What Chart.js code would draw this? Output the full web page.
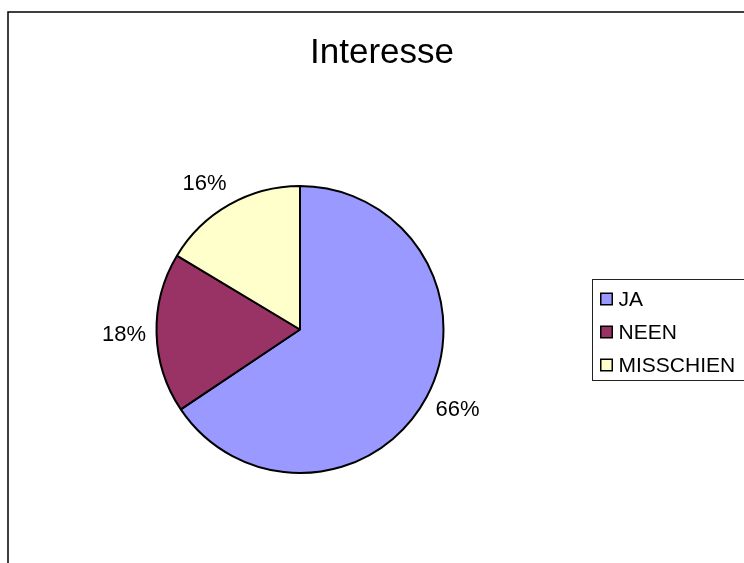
<!DOCTYPE html>
<html>
<head>
<meta charset="utf-8">
<title>Interesse</title>
<script src="https://cdn.jsdelivr.net/npm/chart.js@4/dist/chart.umd.min.js"></script>
<style>
  html, body { margin: 0; padding: 0; background: #fff; }
  #wrap { width: 744px; height: 563px; }
</style>
</head>
<body>
<div id="wrap"><canvas id="c" width="744" height="563"></canvas></div>
<script>
const TITLE = 'Interesse';
const labels = ['JA', 'NEEN', 'MISSCHIEN'];
const values = [65.6, 18.0, 16.4];
const colors = ['#9999ff', '#993366', '#ffffcc'];

const FONT = '"Liberation Sans", Arial, sans-serif';

// Rahmen, Titel und Legende
const decor = {
  id: 'decor',
  beforeDraw(chart) {
    const ctx = chart.ctx;
    ctx.save();
    ctx.fillStyle = '#fff';
    ctx.fillRect(0, 0, chart.width, chart.height);
    ctx.strokeStyle = '#000';
    ctx.lineWidth = 1.5;
    ctx.strokeRect(8, 12, 900, 700);
    ctx.restore();
  },
  afterDraw(chart) {
    const ctx = chart.ctx;
    ctx.save();
    // Titel
    ctx.fillStyle = '#000';
    ctx.font = '35px ' + FONT;
    ctx.textAlign = 'center';
    ctx.textBaseline = 'alphabetic';
    ctx.fillText(TITLE, 382, 63);

    // Legende
    ctx.strokeStyle = '#222';
    ctx.lineWidth = 1;
    ctx.strokeRect(592.5, 279.5, 160, 101);
    ctx.font = '21px ' + FONT;
    ctx.textAlign = 'left';
    ctx.textBaseline = 'middle';
    labels.forEach((l, i) => {
      const y = 299 + i * 33;
      ctx.fillStyle = colors[i];
      ctx.fillRect(600.75, y - 5.75, 11.5, 11.5);
      ctx.strokeStyle = '#000';
      ctx.lineWidth = 1.5;
      ctx.strokeRect(600.75, y - 5.75, 11.5, 11.5);
      ctx.fillStyle = '#000';
      ctx.fillText(l, 618.5, y + 1);
    });

    // Prozentbeschriftungen außerhalb der Tortenstücke
    const meta = chart.getDatasetMeta(0);
    const total = values.reduce((a, b) => a + b, 0);
    ctx.font = '22px ' + FONT;
    ctx.textAlign = 'center';
    ctx.textBaseline = 'middle';
    meta.data.forEach((arc, i) => {
      const mid = (arc.startAngle + arc.endAngle) / 2;
      const c = Math.cos(mid), s = Math.sin(mid);
      const txt = Math.round(values[i] / total * 100) + '%';
      const w = ctx.measureText(txt).width;
      const ra = arc.outerRadius + 15;
      const ox = (w / 2) * Math.max(-1, Math.min(1, c * 2)) * 0.8;
      const oy = s * 10 + 1;
      ctx.fillText(txt, arc.x + ra * c + ox, arc.y + ra * s + oy);
    });
    ctx.restore();
  }
};

new Chart(document.getElementById('c'), {
  type: 'pie',
  data: {
    labels,
    datasets: [{
      data: values,
      backgroundColor: colors,
      borderColor: '#000',
      borderWidth: 2,
      hoverOffset: 0,
    }],
  },
  options: {
    responsive: false,
    animation: false,
    events: [],
    radius: 143.5,
    layout: { padding: { left: 150, right: 294, top: 180, bottom: 84 } },
    plugins: {
      legend: { display: false },
      title: { display: false },
      tooltip: { enabled: false },
    },
  },
  plugins: [decor],
});
</script>
</body>
</html>
